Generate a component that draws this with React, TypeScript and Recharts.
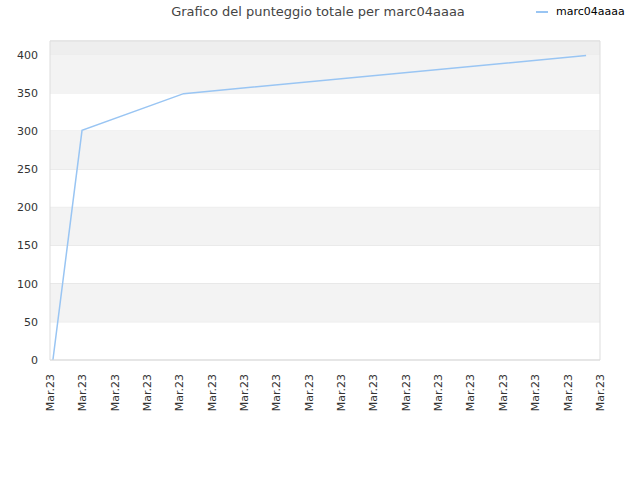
import { LineChart, Line, XAxis, YAxis, CartesianGrid, ReferenceArea, ReferenceLine, Legend } from 'recharts';

// x position in label slots (0..17)
const times = [0.09, 0.99, 4.13, 16.57];
const scores = [0, 301, 349, 399];
const xLabels = [
  'Mar.23', 'Mar.23', 'Mar.23', 'Mar.23', 'Mar.23', 'Mar.23',
  'Mar.23', 'Mar.23', 'Mar.23', 'Mar.23', 'Mar.23', 'Mar.23',
  'Mar.23', 'Mar.23', 'Mar.23', 'Mar.23', 'Mar.23', 'Mar.23',
];
const yTicks = [0, 50, 100, 150, 200, 250, 300, 350, 400];
const yMax = 418;
const seriesName = 'marc04aaaa';

const data = times.map((t, i) => ({ t, score: scores[i] }));
const xTicks = xLabels.map((_, i) => i);

const font = '"DejaVu Sans", sans-serif';

const XTick = (props: any) => {
  const { x, y, payload } = props;
  return (
    <text
      x={0}
      y={0}
      dy="0.35em"
      transform={`translate(${x},${y + 6}) rotate(-90)`}
      textAnchor="end"
      fontSize={11}
      fill="#333"
      fontFamily={font}
    >
      {xLabels[payload.value]}
    </text>
  );
};

const App = () => {
  return (
    <div style={{ position: 'absolute', left: 0, top: 0, width: 640, height: 480, background: '#fff', fontFamily: font }}>
      <div style={{ position: 'absolute', top: 4, left: 0, width: 636, textAlign: 'center', fontSize: 13, color: '#444' }}>
        Grafico del punteggio totale per marc04aaaa
      </div>
      {/* the legend box adds ~12px to the top offset */}
      <LineChart width={640} height={480} data={data} margin={{ top: 28, right: 40, left: 0, bottom: 0 }}>
        <ReferenceArea y1={50} y2={100} fill="#f3f3f3" fillOpacity={1} stroke="none" />
        <ReferenceArea y1={150} y2={200} fill="#f3f3f3" fillOpacity={1} stroke="none" />
        <ReferenceArea y1={250} y2={300} fill="#f3f3f3" fillOpacity={1} stroke="none" />
        <ReferenceArea y1={350} y2={400} fill="#f3f3f3" fillOpacity={1} stroke="none" />
        <ReferenceArea y1={400} y2={yMax} fill="#eeeeee" fillOpacity={1} stroke="none" />
        <CartesianGrid stroke="#e0e0e0" vertical={false} horizontal={true} />
        <XAxis
          dataKey="t"
          type="number"
          domain={[0, 17]}
          ticks={xTicks}
          interval={0}
          axisLine={{ stroke: '#dddddd' }}
          tickLine={false}
          tick={<XTick />}
          height={120}
        />
        <YAxis
          domain={[0, yMax]}
          ticks={yTicks}
          axisLine={{ stroke: '#dddddd' }}
          tickLine={false}
          tickMargin={6}
          width={50}
          tick={{ fill: '#333', fontSize: 11, fontFamily: font }}
        />
        <ReferenceLine y={yMax} stroke="#dddddd" />
        <ReferenceLine x={17} stroke="#dddddd" />
        <Legend
          verticalAlign="top"
          align="right"
          wrapperStyle={{ position: 'absolute', top: 5, left: 536, width: 104 }}
          content={() => (
            <div style={{ display: 'flex', alignItems: 'center', gap: 8 }}>
              <div style={{ width: 12, height: 2, background: '#99c5f3' }}></div>
              <span style={{ fontSize: 11, color: '#000', fontFamily: font }}>{seriesName}</span>
            </div>
          )}
        />
        <Line
          type="linear"
          dataKey="score"
          name={seriesName}
          stroke="#99c5f3"
          strokeWidth={1.5}
          dot={false}
          isAnimationActive={false}
        />
      </LineChart>
    </div>
  );
};

export default App;
